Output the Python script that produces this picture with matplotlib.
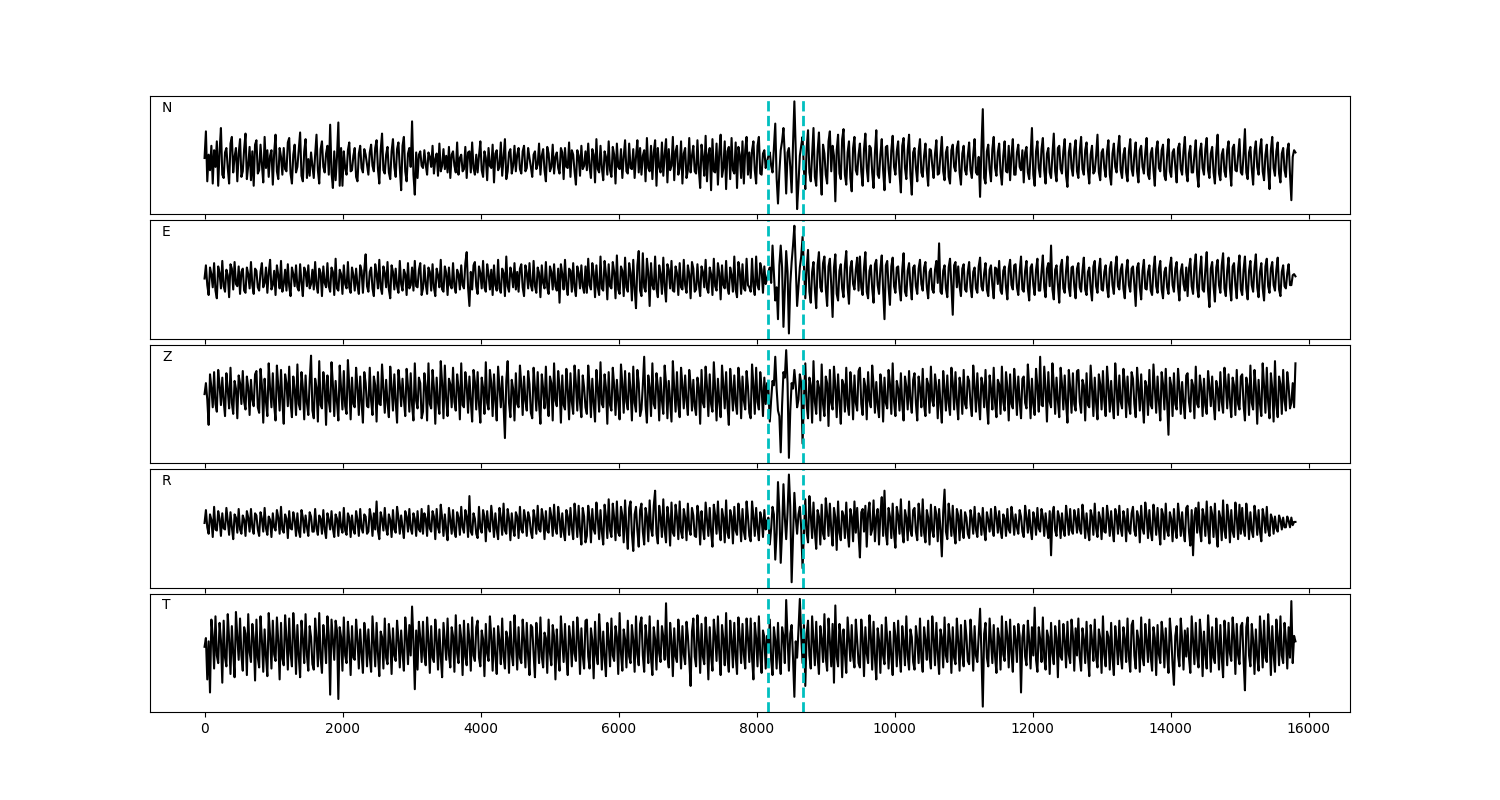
import matplotlib
matplotlib.use('Agg')
import matplotlib.pyplot as plt
import numpy as np

# time axis end (samples) and the two picks
t_end = 15810
pick_1 = 8160
pick_2 = 8670

components = ['N', 'E', 'Z', 'R', 'T']

n_data = [
    3, 27, -18, 6, -8, 14, -20, 10, -5, 18, -22, 9, 30, -12, -15, 8, 12, -6, -20, 16, 22, -10, 4, 12, -18, 7, 20, -14, -9, 11, 25, -16, -4, 13, -17, 9, -22, 15, 19, -11,
    -8, 15, -3, -19, 22, -6, 10, -14, 5, 10, -21, 8, 24, -9, -16, 12, 4, -12, 12, -7, -9, 17, 21, -11, -20, 6, 15, -10, -5, 11, 26, -13, -18, 9, 20, -15, 2, -13, 8, -4,
    -15, 6, 24, -8, -20, 11, 18, -5, -10, 7, 14, -12, 33, -10, -24, 9, -17, 4, 35, -22, 12, -22, 9, -6, -12, 10, 17, -9, -8, 5, 12, -14, -18, 7, 14, -6, -10, 11, 6, -3,
    -12, 8, 15, -4, -9, 12, 19, -7, -20, 10, 25, -8, -11, 6, 13, -10, -16, 9, 20, -5, -14, 11, 17, -6, -26, 14, 22, -9, -18, 7, 12, -5, 36, -12, -30, 8, -15, 6, 9, -4,
    -6, 10, -3, -12, 8, 4, -5, 14, -11, 2, 7, -13, 16, -9, -4, 11, -7, 5, -10, 13, -15, 6, 9, -4, -10, 17, -12, 3, 6, -9, -7, 13, -15, 8, 9, -10, 17, -6, -12, 6,
    -10, 5, 18, -8, -14, 9, 3, -17, 12, -4, -6, 15, -19, 7, 10, -8, -5, 17, -13, 4, 20, -16, -9, 8, 11, -11, -4, 14, -9, 6, 12, -7, -11, 9, 14, -9, -6, 12, 3, -5,
    -14, 6, 9, -7, -3, 16, -12, 5, 11, -8, -18, 13, 7, -9, -5, 15, -11, 4, 8, -6, -11, 12, 8, -16, 12, -5, -6, 17, -14, 10, 6, -9, -21, 10, 5, -13, 14, -7, -4, 9,
    -8, 16, -5, -15, 11, 6, -19, 20, -7, -10, 14, -6, -17, 9, 4, -12, 18, -8, -14, 13, 6, -20, 16, -5, -7, 11, -15, 4, 19, -9, -11, 16, -6, -7, 11, -15, 4, 19, -10, 12,
    -12, 5, 10, -18, 21, -6, -9, 14, -16, 8, 19, -22, 12, -5, -10, 17, -13, 6, 20, -19, 11, -8, -4, 22, -17, 9, 14, -12, -6, 18, -20, 7, 12, -15, -8, 21, -10, 5, 14, -9,
    -11, 19, -7, -24, 15, 4, -13, 23, -18, 6, 12, -26, 20, -9, -10, 16, -21, 8, 24, -14, -6, 18, -25, 9, 13, -16, 21, -8, -11, 17, -24, 13, 6, -15, 18, -20, 10, 22, -12, 8,
    -15, 10, 18, -8, -20, 14, 22, -11, -12, 7, 10, -6, 0, 5, 8, -4, -10, 12, 34, -15, -38, -10, 10, 18, 30, 5, -29, 8, 12, -5, -28, 15, 54, 10, -43, -20, 5, 14, 22, -8,
    -25, 12, 28, -10, -18, 6, 30, -14, -22, 9, 26, -8, -30, 15, 7, -12, -20, 18, 27, -9, 14, 5, -36, 10, 24, -11, -16, 20, 29, -12, -21, 8, 18, -15, -27, 12, 22, -8, -12, 6,
    16, -9, -22, 11, 25, -6, -18, 14, 12, -10, -24, 8, 28, -12, -15, 6, 20, -8, -26, 13, 14, -7, -19, 10, 23, -5, -12, 9, 18, -11, -28, 14, 21, -6, -16, 10, 24, -12, -30, 8,
    12, -6, -18, 9, 20, -10, -14, 5, 16, -8, -22, 11, 10, -4, -15, 7, 19, -12, -11, 6, 22, -9, -17, 8, 13, -14, -20, 10, 15, -5, -9, 12, 18, -10, -21, 7, 14, -8, -12, 5,
    17, -8, -15, 6, 20, -10, -12, 4, -32, 12, 47, -15, -20, 9, 15, -7, -18, 11, 22, -6, -13, 8, 16, -10, -21, 5, 18, -9, -10, 14, -17, 6, 20, -12, -12, 8, 15, -5, -8, 10,
    -19, 8, 13, -10, -16, 5, 30, -12, -22, 9, 18, -6, -14, 11, 21, -8, -20, 7, 12, -10, -15, 6, 25, -9, -18, 12, 14, -7, -11, 9, 20, -13, -23, 8, 16, -6, -13, 10, 19, -9,
    -15, 9, 22, -7, -12, 10, 17, -8, -20, 6, 14, -11, -9, 5, 24, -10, -17, 8, 11, -6, -14, 9, 19, -12, -21, 7, 16, -5, -10, 11, 23, -8, -15, 6, 12, -10, -18, 9, 20, -7,
    -13, 6, 17, -9, -19, 10, 14, -5, -11, 8, 21, -12, -16, 7, 12, -8, -22, 11, 18, -6, -9, 10, 15, -13, -17, 6, 20, -9, -14, 8, 11, -5, -19, 12, 16, -7, -12, 9, 22, -10,
    -18, 7, 14, -10, -10, 6, 19, -12, -23, 9, 16, -6, -12, 11, 21, -8, -15, 7, 13, -10, -20, 8, 24, -11, -17, 6, 11, -9, -14, 10, 18, -7, -22, 12, 15, -8, -9, 6, 20, -10,
    -12, 6, 29, -10, -16, 8, 13, -7, -21, 9, 18, -5, -12, 11, 20, -9, -17, 6, 15, -8, -25, 10, 22, -6, -13, 9, 17, -11, -19, 7, 12, -8, -14, 10, 16, -12, -35, 4, 10, 8,
]

e_data = [
    0, 12, -6, -15, 10, 4, -8, 14, -11, -18, 11, 5, -9, 16, -7, -12, 8, 3, -17, 13, 9, -10, 15, -5, -7, 11, -14, 6, 9, -11, -13, 10, 4, -9, 15, -6, -14, 9, 7, -8,
    -11, 6, 14, -8, -4, 10, -13, 5, 17, -10, -6, 7, -15, 12, 3, -9, 16, -12, -5, 8, -11, 13, -7, -16, 10, 4, -7, 12, -8, -11, 13, -4, -16, 10, 6, -7, 12, -9, -5, 8,
    -10, 15, -6, -13, 9, 5, -16, 11, -4, -8, 14, -7, -12, 10, 6, -15, 18, -9, -11, 8, 4, -14, 12, -5, -9, 15, -8, -13, 10, 3, -11, 9, -6, -14, 12, 7, -13, 8, 22, -7,
    -12, 6, 10, -9, -16, 13, 4, -9, 17, -8, -14, 11, 5, -8, 15, -10, -18, 12, 6, -10, 9, -7, -13, 16, -5, -11, 8, 4, -15, 14, -9, -6, 10, -11, 16, -7, -8, 8, 14, -15,
    -9, 12, -5, -14, 10, 6, -11, 13, -8, -16, 9, 3, -8, 17, -10, -12, 11, 5, -15, 10, -6, -9, 14, -7, -13, 8, 4, -10, 12, -6, -9, 14, 24, -8, -25, 6, -10, 12, 15, -7,
    -14, 11, 5, -9, 16, -8, -12, 13, 4, -10, 8, -15, 12, -6, -11, 17, -9, -13, 9, 5, -16, 20, -7, -12, 10, 4, -8, 14, -10, 6, -12, 9, 13, -8, -16, 12, 5, -9, 14, -6,
    -11, 16, -7, -13, 10, 5, -17, 12, -4, -9, 15, -8, -14, 11, 6, -10, 13, -7, -11, 9, -22, 13, 4, -10, 17, -6, -15, 9, 7, -12, 14, -8, -16, 11, 5, -9, 12, -7, -13, 11,
    -13, 18, -6, -10, 14, 5, -17, 12, -8, -15, 20, -9, -11, 16, 4, -19, 13, -7, -9, 15, 6, -18, 21, -10, -14, 11, 7, -16, 19, -8, -12, 14, 5, -20, 17, -9, -27, 12, 25, -11,
    -16, 23, -8, -12, 18, 5, -25, 14, -6, -10, 20, -9, -17, 12, 4, -14, 19, -7, -21, 13, 8, -9, 16, -11, -12, 11, 5, -15, 14, -8, -10, 17, -6, -13, 12, 4, -18, 15, 9, -12,
    -10, 13, -5, -16, 11, 6, -8, 17, -9, -13, 10, 4, -15, 18, -7, -11, 14, 5, -19, 12, -6, -9, 16, -8, -14, 10, 3, -12, 20, -10, -17, 15, 6, -14, 13, -9, -11, 18, -6, -8,
    -12, 18, -7, -15, 20, -6, -10, 14, 8, -13, 11, -5, 0, 6, 10, -4, 30, 5, -20, -8, -37, 12, 30, 10, -44, -10, 25, 6, -50, -5, 15, 30, 48, 10, -25, -8, 10, 20, 38, 12,
    -18, 9, 26, -12, -22, 6, 15, -10, -27, 12, 24, -8, -12, 14, 20, -9, -25, 11, 18, -6, -35, 10, 22, -14, -20, 7, 13, -9, -17, 12, 25, -8, -23, 10, 16, -5, -10, 8, 19, -11,
    20, -8, -15, 10, 24, -12, -18, 7, 12, -9, -22, 13, 17, -6, -14, 9, 21, -10, -37, 12, 16, -8, -24, 11, 19, -7, -13, 10, 11, -9, -20, 8, 23, -12, -16, 7, 14, -6, -19, 10,
    12, -7, -14, 9, 17, -5, -11, 10, 15, -8, -18, 6, 9, -10, -13, 8, 16, -4, 32, -12, -14, 7, 12, -9, -17, 10, 18, -6, -33, 12, 15, -8, 11, -7, -16, 9, 13, -10, -12, 6,
    15, -8, -17, 6, 10, -9, -13, 11, 19, -7, -11, 5, 14, -10, -16, 8, 12, -6, -18, 10, 9, -5, 16, -11, -14, 7, 11, -8, -19, 9, 17, -6, -10, 12, 13, -8, -15, 6, 20, -10,
    -12, 7, 16, -9, -20, 10, 13, -6, -15, 8, 18, -11, -11, 6, 21, -8, -17, 9, 14, -7, 30, -10, -19, 8, 12, -6, -22, 11, 17, -9, -13, 7, 20, -8, -16, 10, 11, -7, -18, 9,
    14, -8, -12, 7, 19, -10, -15, 6, 10, -9, -20, 11, 16, -7, -13, 8, 18, -10, -11, 6, 12, -8, -17, 9, 15, -6, -14, 10, 20, -7, -10, 8, 13, -9, -18, 7, 17, -6, -12, 9,
    11, -6, -25, 10, 14, -8, -19, 7, 17, -9, -10, 6, 12, -11, -15, 8, 20, -7, -13, 9, 16, -10, -18, 6, 10, -8, -14, 11, 19, -6, -12, 9, 15, -8, -20, 7, 13, -5, -11, 10,
    -16, 9, 18, -7, -14, 11, 22, -8, -17, 6, 20, -10, -12, 8, 24, -11, -26, 9, 15, -7, -21, 10, 17, -6, -13, 12, 23, -9, -16, 7, 19, -8, -20, 11, 14, -6, -18, 9, 21, -10,
    -15, 8, 20, -9, -19, 7, 16, -6, -12, 10, 22, -8, -17, 6, 14, -9, -20, 11, 18, -7, -13, 9, 15, -6, -11, 8, 19, -10, -16, 6, 12, -7, -9, 5, 13, -6, -6, 3, 4, 2,
]

z_data = [
    0, 10, -5, -28, 18, 6, -12, 20, -9, -16, 22, 8, -10, 15, -6, -20, 19, 4, -13, 24, -8, -18, 12, 5, -22, 17, 10, -9, 21, -7, -14, 16, 6, -19, 13, -5, -11, 18, 21, -12,
    -17, 23, 8, -26, 14, -7, -20, 28, 5, -12, 19, -10, -24, 26, 7, -15, 22, -6, -27, 18, 10, -11, 25, -8, -21, 16, 4, -19, 27, -9, -14, 20, 6, -23, 17, -8, -19, 12, 35, -15,
    -22, 14, 6, -25, 30, -10, -13, 20, 8, -28, 17, -6, -16, 29, 9, -20, 12, -7, -24, 26, 5, -14, 21, -11, -18, 31, 7, -23, 15, -9, -12, 24, 6, -19, 16, -8, -26, 20, 10, -11,
    -12, 24, -6, -19, 16, 8, -25, 20, -9, -10, 27, 5, -17, 13, -8, -21, 25, 6, -15, 18, -7, -26, 22, 9, -11, 14, -5, -20, 23, 7, -16, 19, -10, -24, 28, -6, -13, 15, 10, -22,
    -16, 19, 7, -24, 28, -9, -13, 22, 6, -27, 15, -8, -18, 30, 10, -22, 26, -5, -20, 14, 9, -12, 24, -7, -15, 18, 6, -23, 28, -10, -12, 20, 8, -17, 16, -6, -25, 22, 11, -14,
    20, -9, -26, 15, 6, -18, 29, -8, -14, 22, 10, -20, 18, -6, -24, 25, 7, -12, 16, -10, -40, 12, 30, -8, -21, 13, 5, -24, 19, -9, -12, 26, 8, -19, 16, -6, -15, 21, 9, -17,
    -22, 24, 6, -15, 20, -9, -27, 18, 5, -13, 25, -8, -20, 16, 10, -24, 28, -6, -11, 21, 7, -26, 17, -10, -14, 23, 4, -23, 19, -7, -18, 26, 9, -15, 22, -8, -21, 17, 6, -12,
    -18, 26, 7, -21, 14, -8, -25, 22, 5, -16, 29, -9, -12, 18, 6, -27, 20, -10, -15, 24, 8, -19, 13, -6, -23, 27, 9, -17, 21, -7, -14, 19, 4, -24, 25, -8, -16, 22, 10, -20,
    -14, 8, 34, -10, -26, 17, 6, -20, 28, -9, -13, 19, 7, -24, 15, -6, -18, 26, 10, -22, 12, -7, -25, 30, 5, -16, 20, -10, -21, 24, 8, -13, 17, -6, -19, 22, 9, -15, 13, -11,
    -19, 15, 6, -27, 22, -8, -12, 25, 7, -20, 18, -9, -16, 29, 5, -24, 14, -7, -21, 26, 8, -13, 20, -10, -28, 23, 6, -15, 17, -8, -18, 24, 10, -22, 16, -6, -14, 21, 7, -17,
    -22, 27, 8, -18, 24, -7, -14, 20, 6, -20, 15, -9, 10, 4, -25, -5, 12, 8, 34, 5, -15, -20, -53, -10, 20, 15, 40, 10, -58, -15, 10, 5, 22, 8, -12, -5, 18, 10, -45, -5,
    28, -10, -22, 15, 8, -26, 30, -7, -18, 12, 6, -24, 27, -9, -20, 16, 10, -29, 22, -8, -14, 25, 7, -21, 18, -6, -27, 13, 9, -16, 24, -10, -19, 20, 5, -23, 17, -8, -15, 21,
    24, -9, -19, 14, 7, -23, 20, -6, -12, 26, 8, -17, 11, -10, -21, 18, 6, -25, 15, -8, -13, 22, 9, -18, 28, -7, -20, 12, 5, -15, 19, -9, -24, 16, 7, -14, 21, -6, -17, 13,
    19, -8, -24, 16, 6, -12, 23, -10, -20, 14, 9, -17, 25, -6, -11, 18, 7, -22, 13, -9, -26, 21, 5, -15, 17, -8, -19, 24, 10, -14, 20, -7, -23, 15, 6, -18, 22, -9, -13, 16,
    12, -9, -20, 26, 7, -16, 19, -6, -23, 15, 8, -12, 22, -10, -27, 17, 5, -14, 24, -8, -21, 13, 9, -18, 25, -7, -15, 20, 6, -24, 18, -9, -13, 23, 7, -19, 16, -6, -22, 14,
    16, -8, -13, 27, 6, -22, 14, -9, -19, 23, 7, -16, 34, -10, -11, 25, 5, -25, 20, -7, -12, 28, 8, -18, 15, -6, -21, 24, 9, -14, 17, -8, -26, 22, 6, -17, 19, -9, -15, 21,
    22, -7, -17, 13, 8, -24, 19, -10, -12, 26, 5, -20, 15, -8, -23, 18, 9, -14, 21, -6, -20, 25, 7, -16, 12, -9, -22, 28, 6, -19, 17, -7, -13, 23, 10, -21, 16, -8, -18, 20,
    14, -9, -21, 24, 6, -15, 18, -8, -26, 12, 7, -19, 22, -10, -13, 27, 5, -17, 16, -7, -24, 20, 9, -14, 23, -6, -37, 15, 8, -20, 19, -9, -14, 23, 6, -18, 11, -8, -22, 17,
    19, -7, -16, 13, 8, -22, 25, -9, -12, 17, 6, -20, 14, -10, -18, 21, 7, -11, 16, -8, -23, 12, 5, -15, 20, -7, -17, 24, 9, -13, 18, -6, -21, 15, 8, -19, 22, -9, -14, 16,
    18, -10, -24, 15, 7, -19, 26, -8, -14, 22, 6, -27, 13, -9, -20, 28, 8, -17, 24, -7, -22, 19, 5, -25, 30, -10, -21, 16, 9, -18, 22, -6, -15, 20, 7, -13, -8, 10, -12, 28,
]

r_data = [
    0, 12, -4, -10, 8, 3, -13, 15, -6, -7, 11, 4, -12, 9, -5, -6, 14, 2, -11, 10, -4, -15, 8, 5, -9, 13, -6, -10, 7, 3, -12, 11, 5, -8, 13, -4, -10, 9, 7, -6,
    -12, 10, 4, -8, 14, -5, -11, 6, 3, -13, 9, -4, -7, 12, 5, -10, 15, -6, -9, 8, 4, -14, 11, -5, -6, 10, 3, -12, 9, -7, -13, 12, 5, -9, 7, -4, -12, 10, 6, -8,
    -8, 13, -5, -11, 7, 4, -10, 12, -6, -14, 9, 3, -6, 11, -5, -13, 8, 4, -12, 10, -4, -9, 14, -7, -11, 9, 5, -13, 7, -6, -10, 11, 3, -12, 13, -5, -9, 8, 6, -10,
    -8, 13, 5, -12, 9, -6, 20, -7, -15, 10, 4, -7, 14, -5, -11, 8, 3, -13, 12, -6, -9, 15, 5, -10, 7, -4, -14, 11, 6, -8, 13, -5, -10, 9, 4, -12, 11, -6, -8, 13,
    -10, 9, 4, -12, 16, -5, -8, 11, 6, -15, 13, -4, -9, 17, 5, -12, 8, -6, -16, 14, 3, -10, 12, -7, -13, 10, 5, -11, 15, -4, -9, 12, 6, -13, 25, -8, -11, 9, 4, -10,
    -14, 15, -5, -9, 12, 6, -17, 11, -4, -8, 16, 3, -13, 9, -6, -15, 14, 5, -11, 18, -7, -10, 13, 4, -16, 9, -5, -12, 10, 6, -14, 15, -6, -9, 12, 4, -12, 10, 5, -8,
    -14, 12, 4, -10, 16, -6, -8, 13, 5, -15, 11, -7, -9, 14, 6, -12, 17, -5, -10, 15, 4, -13, 9, -8, -16, 12, 6, -11, 14, -4, -15, 18, 5, -13, 16, -7, -20, 14, 6, -18,
    -12, 16, 5, -18, 13, -6, -10, 19, 4, -15, 12, -8, -20, 17, 6, -14, 22, -7, -13, 18, 5, -16, 20, -9, -12, 15, 7, -18, 21, -6, -24, 14, 20, -10, -26, 8, 15, -7, -22, 12,
    18, -8, -20, 14, 6, -17, 21, -5, -12, 16, 30, -10, -19, 16, 5, -13, 22, -7, -18, 15, 4, -21, 19, -9, -12, 17, 6, -15, 20, -8, -14, 13, 5, -16, 18, -6, -11, 14, 7, -12,
    -13, 16, 6, -20, 11, -5, -15, 19, 4, -12, 14, -8, -22, 17, 7, -10, 20, -6, -16, 13, 5, -18, 21, -9, -14, 12, 6, -19, 15, -7, -11, 18, 4, -17, 13, -8, -15, 20, 6, -12,
    -17, 20, 6, -12, 14, -5, -16, 10, 4, -13, 12, -6, 2, 5, -20, -5, 15, 8, -34, -10, 38, 10, -37, -8, 36, 5, -15, 10, 45, 15, -55, -15, 28, 5, -10, 8, 15, -5, -42, -10,
    22, -9, -18, 25, 7, -14, 19, -8, -24, 12, 6, -20, 17, -10, -15, 23, 8, -12, 18, -6, -21, 14, 5, -25, 20, -9, -16, 11, 7, -14, 19, -8, -22, 13, 6, -17, 20, -9, 14, -10,
    -32, 10, 13, -8, 16, -22, 9, 19, -11, -6, 21, -17, 5, 13, -20, 8, 24, -12, 30, -9, -20, 14, 6, -14, 18, -10, -23, 15, 7, -10, 22, -8, -18, 12, 5, -16, 20, -7, -12, 12,
    14, -8, -16, 18, 6, -12, 22, -9, -18, 12, 5, -20, 17, -7, -13, 15, 8, -17, 13, -6, -31, 10, 31, -8, -15, 18, 5, -12, 16, -9, -19, 13, 7, -16, 12, -6, -14, 10, 5, -10,
    -14, 12, 4, -10, 15, -6, -13, 9, 5, -11, 14, -7, -16, 10, 3, -8, 13, -5, -12, 15, 6, -9, 11, -7, -14, 8, 4, -12, 13, -6, -9, 15, 5, -11, 8, -4, -10, 12, 6, -8,
    -13, 16, 5, -9, 12, -6, -15, 10, 4, -11, 14, -5, -8, 13, 6, -12, 9, -4, -14, 11, -30, 8, 15, -7, -12, 11, 5, -14, 9, -6, -12, 16, 4, -11, 13, -7, -10, 12, 5, -9,
    13, -6, -10, 17, 5, -14, 9, -7, -16, 12, 6, -11, 18, -5, -13, 10, 4, -15, 14, -8, -9, 16, 5, -12, 11, -6, -17, 13, 7, -10, 16, -5, -12, 11, 4, -17, 13, -7, -10, 9,
    15, -7, -12, 11, 6, -18, 16, -5, -10, 19, 7, -14, 12, -8, -16, 17, 5, -11, 14, -6, -20, 13, 8, -15, 18, -7, -12, 10, 4, -17, 13, -6, -14, 18, 5, -12, 10, -8, -17, 14,
    16, -8, -21, 12, -30, 6, 14, -9, 19, -7, -17, 13, 6, -12, 20, -5, -19, 15, 8, -13, 18, -9, -22, 11, 5, -16, 21, -7, -14, 17, 6, -18, 12, -8, -13, 19, 5, -15, 17, -10,
    14, -6, -12, 18, 5, -15, 10, -7, -13, 16, 6, -11, 12, -8, -17, 13, 5, -9, 15, -6, -12, 8, 4, -10, 6, -5, -8, 7, 3, -6, 5, -4, -4, 6, 2, -4, 5, -2, 1, 1,
]

t_data = [
    0, 8, -30, 5, -42, 25, 10, -20, 28, -8, -15, 22, 6, -33, 24, -10, -18, 30, 7, -25, 19, -6, -28, 32, 9, -12, 26, -8, -22, 18, 12, -26, 30, -5, -14, 21, 8, -31, 25, -10,
    -19, 28, 6, -23, 16, -9, -27, 31, 10, -20, 24, -7, -13, 27, 5, -30, 22, -11, -17, 29, 8, -21, 26, -6, -18, 31, 11, -25, 20, -9, -28, 24, 7, -15, 30, -8, -22, 19, 9, -16,
    -21, 26, 8, -18, 31, -10, -24, 20, 6, -15, 28, 10, -44, 25, 6, -12, 24, 15, -48, 18, 9, -22, 27, -8, -15, 23, 5, -26, 19, -10, -12, 25, 7, -20, 16, -6, -24, 22, 10, -18,
    16, -9, -23, 28, 5, -18, 22, -7, -27, 14, 9, -20, 26, -10, -16, 21, 6, -25, 17, -8, -13, 24, 7, -19, 15, -6, -22, 27, 10, -16, 20, -8, 37, 5, -39, 15, -21, 23, 8, -14,
    23, -8, -17, 27, 6, -24, 19, -10, -14, 25, 7, -21, 16, -9, -28, 22, 5, -12, 26, -7, -19, 18, 10, -23, 29, -6, -15, 20, 8, -26, 24, -9, -17, 21, 6, -22, 27, -8, -13, 18,
    24, -10, -18, 15, 7, -27, 21, -6, -13, 28, 9, -22, 17, -8, -25, 19, 6, -16, 26, -9, -20, 14, 8, -24, 23, -7, -17, 29, 5, -21, 18, -10, -15, 25, 7, -19, 22, -8, -26, 20,
    18, -7, -28, 22, 6, -15, 27, -9, -19, 13, 8, -24, 25, -6, -17, 20, 10, -30, 16, -8, -22, 28, 5, -14, 21, -9, -26, 19, 7, -18, 23, -6, -13, 27, 9, -25, 17, -8, -20, 24,
    25, -9, -20, 17, 6, -29, 23, -7, -16, 30, 8, -21, 14, -10, -27, 22, 5, -18, 26, -8, -13, 19, 9, -25, 31, -6, -22, 16, 7, -19, 24, -9, -15, 20, 6, -23, 28, -7, -17, 21,
    27, -8, -23, 20, 6, -15, 28, -10, -26, 18, 7, -21, 24, -6, -14, 19, 9, -12, 40, -8, -19, 22, 5, -27, 17, -9, -14, 25, 8, -20, 19, -7, -16, 23, 10, -12, -36, 14, 26, -9,
    -18, 29, 7, -24, 21, -9, -16, 27, 5, -30, 18, -8, -22, 25, 10, -13, 28, -6, -26, 20, 7, -17, 31, -10, -23, 24, 6, -19, 22, -8, -25, 27, 9, -15, 21, -7, -20, 26, 8, -14,
    26, -10, -30, 22, 8, -18, 28, -7, -24, 15, 9, -20, 10, -5, 25, -12, -26, 18, 6, -20, 22, -10, -25, 18, 10, -15, 43, 8, -22, 12, 20, -10, -46, 5, -10, 15, 44, 10, -15, 20,
    -36, 12, 24, -8, -20, 28, 6, -17, 23, -9, -25, 19, 7, -14, 30, -10, -22, 26, 5, -18, 21, -33, 38, -9, -18, 21, 8, -28, 16, -6, -24, 27, 7, -13, 20, -9, -19, 25, 6, -15,
    -19, 25, 8, -27, 18, -6, -15, 29, 9, -21, 23, -10, -30, 17, 6, -24, 20, -8, -16, 27, 7, -20, 14, -9, -26, 22, 10, -18, 24, -7, -23, 19, 5, -17, 28, -8, -21, 16, 9, -14,
    -21, 19, 7, -15, 26, -10, -23, 18, 6, -12, 24, -9, -20, 28, 8, -17, 22, -6, -25, 16, 9, -19, 27, -8, -14, 21, 7, -24, 18, -10, -16, 26, 5, -22, 20, -7, -18, 24, 10, -13,
    -16, 25, 7, -22, 19, -8, -14, 10, 35, -6, -55, 12, 22, -10, -18, 26, 6, -15, 20, -9, -24, 17, 8, -21, 28, -7, -13, 23, 10, -19, 25, -6, -23, 19, 7, -14, 21, 10, -42, 8,
    20, -9, -17, 24, 6, -20, 18, -8, 36, -12, -23, 18, 7, -14, 27, -10, -21, 15, 9, -25, 22, -6, -16, 19, 8, -28, 24, -9, -12, 21, 6, -19, 23, -7, -15, 25, 10, -22, 17, -8,
    26, -10, -22, 17, 7, -15, 23, -8, -27, 20, 6, -13, 25, -9, -19, 16, 8, -24, 28, -7, -18, 14, 9, -21, 22, -10, -26, 19, 5, -16, 24, -8, -20, 18, 7, -14, 26, -9, -23, 20,
    24, -8, -20, 15, 7, -23, 27, -10, -17, 21, 6, -14, 25, -9, -22, 18, 8, -26, 20, -7, -15, 23, 10, -19, 17, -6, -24, 26, 9, -16, -35, 10, 19, -8, -18, 26, 7, -21, 15, -9,
    17, -10, -24, 28, 6, -16, 22, -8, -19, 25, 9, -27, 14, -7, -20, 29, 8, -23, 18, -10, -15, 26, 5, -21, 20, -9, -28, 24, 7, -17, 22, -6, -13, 27, 10, -25, 21, -8, -16, 19,
    22, -12, -40, 18, 27, -8, -18, 21, 6, -25, 16, -9, -22, 28, 7, -19, 24, -10, -14, 30, 8, -26, 19, -7, -23, 25, 9, -17, 28, -8, -15, 22, 6, -20, 18, -10, 42, -15, 10, 5,
]

traces = [n_data, e_data, z_data, r_data, t_data]

fig, axes = plt.subplots(5, 1, sharex=True, figsize=(15, 8))
fig.subplots_adjust(left=0.1, right=0.9, top=0.88, bottom=0.11, hspace=0.05)

for ax, name, trace in zip(axes, components, traces):
    t = np.linspace(0, t_end, len(trace))
    ax.plot(t, trace, color='k', lw=1.5)
    ax.axvline(pick_1, color='c', ls='--', lw=2)
    ax.axvline(pick_2, color='c', ls='--', lw=2)
    ax.set_yticks([])
    ax.text(0.01, 0.9, name, transform=ax.transAxes, ha='left', va='center', fontsize=10)

fig.savefig('out.png', dpi=100)
